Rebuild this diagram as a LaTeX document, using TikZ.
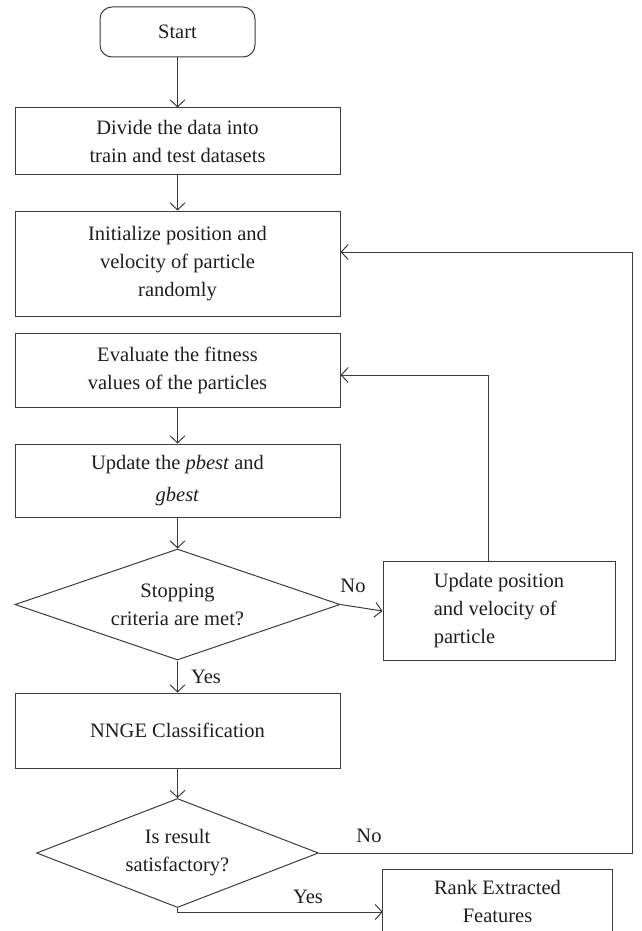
\documentclass[tikz,border=0pt]{standalone}
\usepackage{fontspec}
\setmainfont{Liberation Serif}
\usetikzlibrary{arrows.meta,shapes.geometric}
\definecolor{ln}{HTML}{3C3C3C}
\definecolor{tx}{HTML}{1E1E1E}
\begin{document}
\begin{tikzpicture}[x=1pt,y=-1pt,
  every node/.style={font=\fontsize{20.5}{28}\selectfont, text=tx},
  box/.style={draw=ln, line width=1pt, rectangle, minimum width=325pt, align=center, inner sep=0pt},
  term/.style={box, rounded corners=12pt, minimum width=155pt, minimum height=50pt},
  dec/.style={draw=ln, line width=1pt, diamond, inner sep=0pt, align=center},
  flow/.style={draw=ln, line width=1pt, -{Straight Barb[length=7pt,width=15pt]}},
  lbl/.style={inner sep=0pt}
]
\useasboundingbox (0,0) rectangle (641,931);
\clip (0,0) rectangle (641,931);

\node[term] (start) at (177.5,32) {Start};
\node[box, minimum height=66pt] (divide) at (177.5,141) {Divide the data into\\train and test datasets};
\node[box, minimum height=105pt] (init) at (177.5,263.5) {Initialize position and\\velocity of particle\\randomly};
\node[box, minimum height=74pt] (eval) at (177.5,370) {Evaluate the fitness\\values of the particles};
\node[box, minimum height=73pt] (upd) at (177.5,480.5) {Update the \textit{pbest} and\\[4pt]\textit{gbest}};
\node[dec, minimum width=325pt, minimum height=111pt, aspect=2.93] (stop) at (177.5,604.5) {Stopping\\criteria are met?};
\node[box, minimum width=232pt, minimum height=99pt, align=left] (updpos) at (499,611) {Update position\\and velocity of\\particle};
\node[box, minimum height=75pt] (nnge) at (177.5,730.5) {NNGE Classification};
\node[dec, minimum width=282pt, minimum height=109pt, aspect=2.59] (sat) at (177.5,853) {Is result\\satisfactory?};
\node[inner sep=0pt, minimum width=229pt, minimum height=64pt, align=center] (rank) at (497.5,901.5) {Rank Extracted\\Features};
\draw[draw=ln, line width=1pt] (rank.south west) -- (rank.north west) -- (rank.north east) -- (rank.south east);

\coordinate (fb) at (632,252);

\draw[flow] (start.south) -- (divide.north);
\draw[flow] (divide.south) -- (init.north);
\draw[flow] (eval.south) -- (upd.north);
\draw[flow] (upd.south) -- (stop.north);
\draw[flow] (stop.east) -- (updpos.west);
\draw[flow] ([xshift=-11pt]updpos.north) |- ([yshift=-5pt]eval.east);
\draw[flow] (stop.south) -- (nnge.north);
\draw[flow] (nnge.south) -- (sat.north);
\draw[flow] (sat.east) -| (fb) -- ([yshift=11.5pt]init.east);
\draw[flow] (sat.south) |- ([yshift=-10.5pt]rank.west);

\node[lbl] (no1) at (353,586) {No};
\node[lbl] (yes1) at (206,677) {Yes};
\node[lbl] (no2) at (369,836) {No};
\node[lbl] (yes2) at (308,897) {Yes};
\end{tikzpicture}
\end{document}
